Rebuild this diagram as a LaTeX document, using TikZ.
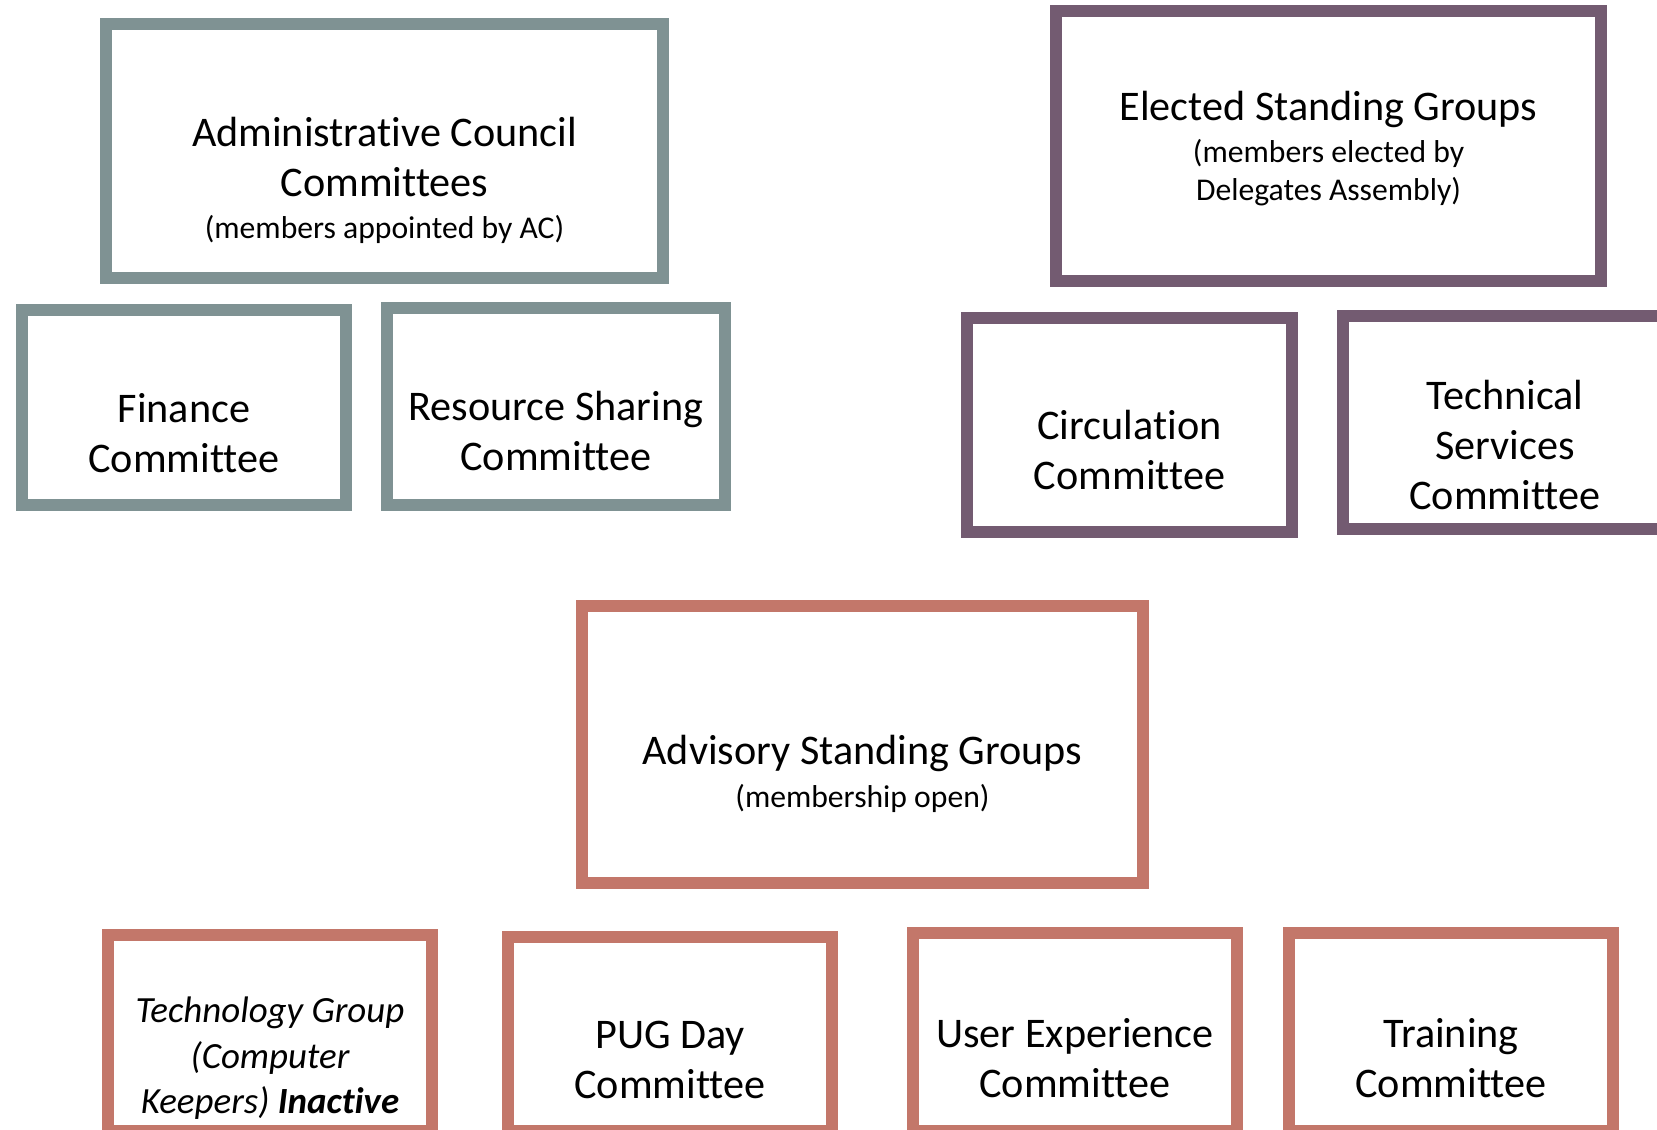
\documentclass[tikz,border=0pt]{standalone}
\usepackage{fontspec}
\setmainfont{Carlito}[Ligatures=NoCommon]
\usepackage{xcolor}
\definecolor{AcGrey}{RGB}{127,146,147}
\definecolor{EsgPurple}{RGB}{115,91,113}
\definecolor{AsgRed}{RGB}{195,119,106}
\usetikzlibrary{positioning}
\newcommand{\subtxt}{\fontsize{9}{11}\selectfont}

\begin{document}
\begin{tikzpicture}[
    x = 0.01cm, y = -0.01cm
    , grp/.style = {
      , rectangle
      , line width = 3.4pt
      , inner sep = 0pt
      , minimum width = 3.24cm
      , minimum height = 1.96cm
    }
    , acbox/.style = {
      grp,
      draw=AcGrey
    }
    , esgbox/.style = {
      grp,
      draw=EsgPurple
    }
    , asgbox/.style = {
      grp,
      draw=AsgRed
    }
    , txt/.style = {
      , align = center
      , anchor = base
      , inner sep = 0pt
      , font = \fontsize{12}{14.2}\selectfont
    }
    ]
    \useasboundingbox[fill=white] (0,0) rectangle (1657,1129);
    \clip (0,0) rectangle (1657,1129);

    % appointed by AC
    \node[acbox, minimum width=5.57cm, minimum height=2.54cm] (ac) at (384.5,151) {};
    \node[txt] (actxt) at (ac |- 0,238) {Administrative Council\\Committees\\[-2.5pt]{\subtxt (members appointed by AC)}};
    \node[acbox, minimum height=1.95cm] (fin) at (184,407.5) {};
    \node[txt] (fintxt) at (fin |- 0,472) {Finance\\Committee};
    \node[acbox, minimum width=3.38cm, minimum height=1.97cm] (res) at (556,406.5) {};
    \node[txt] (restxt) at (res |- 0,470) {Resource Sharing\\Committee};

    % elected
    \node[esgbox, minimum width=5.45cm, minimum height=2.7cm] (esg) at (1328.5,146) {};
    \node[txt] (esgtxt) at (esg |- 0,200) {Elected Standing Groups\\[-2.3pt]{\subtxt (members elected by}\\[-3.4pt]{\subtxt Delegates Assembly)}};
    \node[esgbox, minimum width=3.25cm, minimum height=2.14cm] (circ) at (1129.5,425) {};
    \node[txt] (circtxt) at (circ |- 0,489) {Circulation\\Committee};
    \node[esgbox, minimum height=2.13cm] (tech) at (1505,422.5) {};
    \node[txt] (techtxt) at (tech |- 0,509) {Technical\\Services\\Committee};

    % advisory
    \node[asgbox, minimum width=5.61cm, minimum height=2.77cm] (asg) at (862.5,744.5) {};
    \node[txt] (asgtxt) at (asg |- 0,807) {Advisory Standing Groups\\[-2pt]{\subtxt (membership open)}};
    \node[asgbox] (tg) at (270,1033) {};
    \node[txt, font=\fontsize{10.5}{12.8}\selectfont\itshape] (tgtxt) at (tg |- 0,1113) {Technology Group\\(Computer\\Keepers) \textbf{Inactive}};
    \node[asgbox, minimum height=1.94cm] (pug) at (670,1034) {};
    \node[txt] (pugtxt) at (pug |- 0,1098) {PUG Day\\Committee};
    \node[asgbox, minimum height=1.98cm] (ux) at (1075,1032) {};
    \node[txt] (uxtxt) at (ux |- 0,1097) {User Experience\\Committee};
    \node[asgbox, minimum height=1.98cm] (trn) at (1451,1032) {};
    \node[txt] (trntxt) at (trn |- 0,1097) {Training\\Committee};
  \end{tikzpicture}
\end{document}
